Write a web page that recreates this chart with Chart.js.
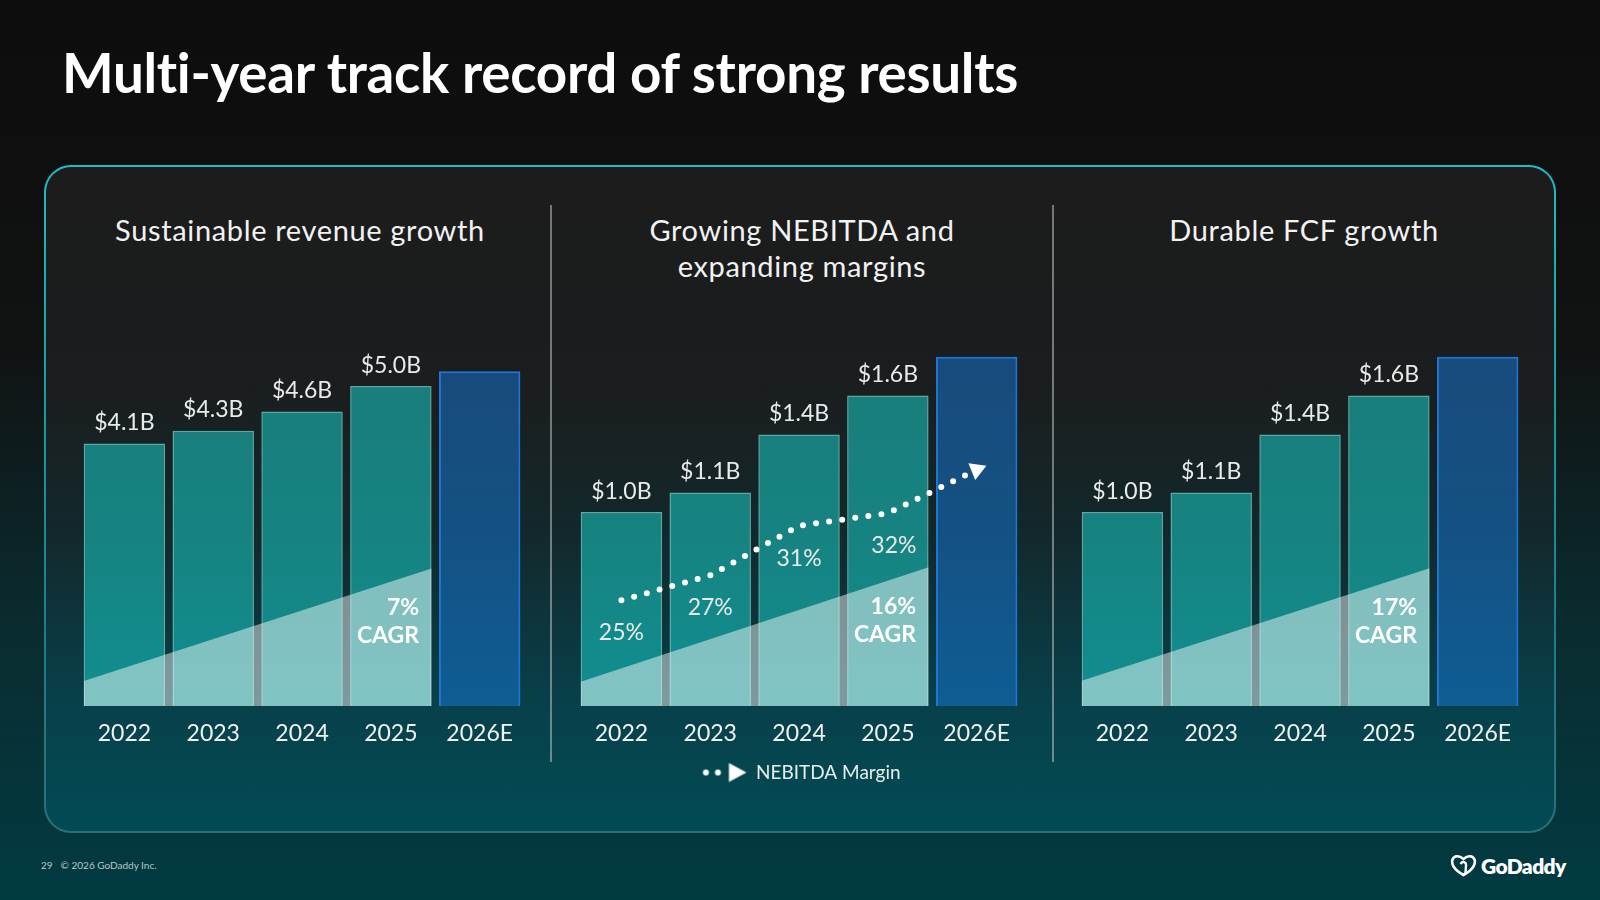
<!DOCTYPE html>
<html>
<head>
<meta charset="utf-8">
<script src="https://cdn.jsdelivr.net/npm/chart.js@4.4.1/dist/chart.umd.min.js"></script>
<style>
  html, body { margin: 0; padding: 0; }
  body {
    width: 1600px; height: 900px; overflow: hidden; position: relative;
    font-family: Lato, "Open Sans", sans-serif; color: #fff;
    background: linear-gradient(180deg, #0d0d0d 0%, #111212 38%, #0a2c30 70%, #013b42 100%);
  }
  #title {
    position: absolute; left: 62px; top: 44px; font-size: 56px; font-weight: 700;
    line-height: 1; white-space: nowrap; transform-origin: left center; letter-spacing: -0.3px;
  }
  .frame {
    position: absolute; left: 44px; top: 165px; width: 1512px; height: 668px;
    border-radius: 27px; padding: 2px; box-sizing: border-box;
    background: linear-gradient(180deg, #1fbcc1 0%, #1a9ca2 35%, #1f7e85 70%, #2e6f75 100%);
  }
  .panel {
    width: 100%; height: 100%; border-radius: 25px;
    background: linear-gradient(180deg, #1c1c1c 0%, #1b1d1e 32%, #13282b 55%, #08404a 80%, #024b53 100%);
  }
  .sub {
    position: absolute; top: 212px; font-size: 29px; line-height: 36px; text-align: center;
    color: #f2f2f2; letter-spacing: 0.65px;
  }
  .divider { position: absolute; top: 205px; width: 1.5px; height: 557px; background: rgba(190,195,195,0.55); }
  canvas { position: absolute; }
  #foot { position: absolute; left: 41px; top: 859px; font-size: 10px; color: #b9c9c9; }
  #foot span { margin-left: 8px; }
  #logo { position: absolute; left: 1450px; top: 853px; display: flex; align-items: center; }
  #logo b { font-size: 21px; font-weight: 800; letter-spacing: -0.6px; margin-left: 4px; }
</style>
</head>
<body>
<div id="title">Multi-year track record of strong results</div>
<div class="frame"><div class="panel"></div></div>
<div class="sub" style="left:47px;width:506px">Sustainable revenue growth</div>
<div class="sub" style="left:551px;width:502px">Growing NEBITDA and<br>expanding margins</div>
<div class="sub" style="left:1053px;width:502px">Durable FCF growth</div>
<div class="divider" style="left:550px"></div>
<div class="divider" style="left:1052px"></div>

<canvas id="revChart" width="447" height="431" style="left:80px;top:322px"></canvas>
<canvas id="nebChart" width="447" height="474" style="left:577px;top:318px"></canvas>
<canvas id="fcfChart" width="447" height="435" style="left:1078px;top:318px"></canvas>

<div id="foot">29<span>© 2026 GoDaddy Inc.</span></div>
<div id="logo">
  <svg width="27" height="23" viewBox="0 0 27 23">
    <path d="M13.5 21 C4 16 1 10 2.5 5.5 C4 1.5 9 1 13.5 5 C18 1 23 1.5 24.5 5.5 C26 10 23 16 13.5 21 Z" fill="none" stroke="#fff" stroke-width="2.6"/>
    <path d="M10.5 10 C12.5 7 16.5 7.5 16 12 L15.4 20" fill="none" stroke="#fff" stroke-width="2.4"/>
  </svg>
  <b>GoDaddy</b>
</div>

<script>
// data
const years = ["2022", "2023", "2024", "2025", "2026E"];
const revenue = [4.1, 4.3, 4.6, 5.0, 5.23];      // $B, 2026E unlabeled
const nebitda = [1.0, 1.1, 1.4, 1.6, 1.8];
const fcf = [1.0, 1.1, 1.4, 1.6, 1.8];
const nebitdaMargin = [25, 27, 31, 32, 35.5];     // %, 2026E unlabeled
const cagrText = ["7%", "16%", "17%"];
// CAGR wedge heights (start, end) in each chart's $B units
const revWedge = [0.39, 2.15];
const nebWedge = [0.125, 0.715];
const fcfWedge = [0.13, 0.71];
const labeledYears = 4;

Chart.defaults.font.family = "Lato";
Chart.defaults.color = "#f0f0f0";

const barFrac = 0.917;
const teal = "rgba(25,205,200,0.55)";
const blue = "rgba(22,122,220,0.5)";

// dots + arrow icon for the legend
const legendIcon = document.createElement("canvas");
legendIcon.width = 48; legendIcon.height = 20;
(function () {
  const c = legendIcon.getContext("2d");
  c.fillStyle = "#fff";
  [6.5, 18.5].forEach(x => { c.beginPath(); c.arc(x, 10, 3, 0, Math.PI * 2); c.fill(); });
  c.beginPath(); c.moveTo(29.5, 0.5); c.lineTo(47, 10); c.lineTo(29.5, 19.5); c.closePath(); c.fill();
})();

const slideLabels = {
  id: "slideLabels",
  afterDatasetsDraw(chart, args, opts) {
    const ctx = chart.ctx;
    ctx.save();
    // bar value labels
    ctx.font = "23px Lato";
    ctx.fillStyle = "#e9ebeb";
    ctx.textAlign = "center";
    ctx.textBaseline = "alphabetic";
    chart.getDatasetMeta(0).data.forEach((el, i) => {
      if (i < labeledYears) ctx.fillText("$" + opts.values[i].toFixed(1) + "B", el.x, el.y - 13.5);
    });
    // margin labels under the dotted line
    if (opts.margins) {
      chart.getDatasetMeta(2).data.forEach((el, i) => {
        if (i < labeledYears) ctx.fillText(opts.margins[i] + "%", el.x + (i === 3 ? 6 : 0), el.y + 40);
      });
    }
    // CAGR text at the top of the wedge
    const tip = chart.getDatasetMeta(1).data[1];
    ctx.font = "bold 23px Lato";
    ctx.fillStyle = "#ffffff";
    ctx.textAlign = "right";
    ctx.fillText(opts.cagr, tip.x - 12.5, tip.y + 47);
    ctx.fillText("CAGR", tip.x - 12.5, tip.y + 75);
    ctx.restore();
  }
};

function makeChart(id, values, yMax, wedge, cagr, margins) {
  const datasets = [
    {
      label: "bars",
      data: values,
      backgroundColor: values.map((v, i) => i < labeledYears ? teal : blue),
      borderColor: values.map((v, i) => i < labeledYears ? "rgba(105,205,198,0.8)" : "#1f78d8"),
      borderWidth: values.map((v, i) => i < labeledYears ? 1.5 : 2),
      grouped: false,
      categoryPercentage: 1,
      barPercentage: barFrac,
      order: 2
    },
    {
      type: "line",
      label: "wedge",
      data: [{ x: -barFrac / 2, y: wedge[0] }, { x: 3 + barFrac / 2, y: wedge[1] }],
      xAxisID: "xw",
      yAxisID: "y",
      fill: "origin",
      backgroundColor: "rgba(255,255,255,0.47)",
      borderWidth: 0,
      pointRadius: 0,
      tension: 0,
      order: 1
    }
  ];
  const scales = {
    x: {
      type: "category",
      offset: true,
      grid: { display: false, drawTicks: false },
      border: { display: false },
      ticks: { padding: 14, font: { size: 23 }, color: "#f2f2f2" },
      afterFit: s => { s.height = 47; }
    },
    xw: { type: "linear", display: false, offset: false, grid: { offset: false }, min: -0.5, max: 4.5 },
    y: { display: false, min: 0, max: yMax }
  };
  if (margins) {
    datasets.push({
      type: "line",
      label: "NEBITDA Margin",
      data: margins,
      yAxisID: "yM",
      borderColor: "#ffffff",
      borderWidth: 6,
      borderDash: [0, 13.2],
      borderCapStyle: "round",
      tension: 0,
      fill: false,
      pointStyle: "triangle",
      pointRadius: c => c.dataIndex === margins.length - 1 ? 10.5 : 0,
      pointRotation: 188,
      pointBackgroundColor: "#ffffff",
      pointBorderWidth: 0,
      order: 0
    });
    scales.yM = { display: false, min: 16.5, max: 47.7 };
  }
  return new Chart(document.getElementById(id), {
    type: "bar",
    data: { labels: years, datasets: datasets },
    options: {
      responsive: false,
      animation: false,
      layout: { padding: 0, autoPadding: false },
      scales: scales,
      plugins: {
        tooltip: { enabled: false },
        legend: {
          display: !!margins,
          position: "bottom",
          labels: {
            filter: item => { item.rotation = 0; return item.text === "NEBITDA Margin"; },
            usePointStyle: true,
            pointStyle: legendIcon,
            pointStyleWidth: 46,
            padding: 10,
            color: "#e6eeee",
            font: { size: 19 }
          }
        },
        slideLabels: { values: values, cagr: cagr, margins: margins }
      }
    },
    plugins: [slideLabels]
  });
}

makeChart("revChart", revenue, 6, revWedge, cagrText[0], null);
makeChart("nebChart", nebitda, 2, nebWedge, cagrText[1], nebitdaMargin);
makeChart("fcfChart", fcf, 2, fcfWedge, cagrText[2], null);

// squeeze the heading to the slide's width
const title = document.getElementById("title");
title.style.transform = "scaleX(" + (956 / title.getBoundingClientRect().width) + ")";
</script>
</body>
</html>
